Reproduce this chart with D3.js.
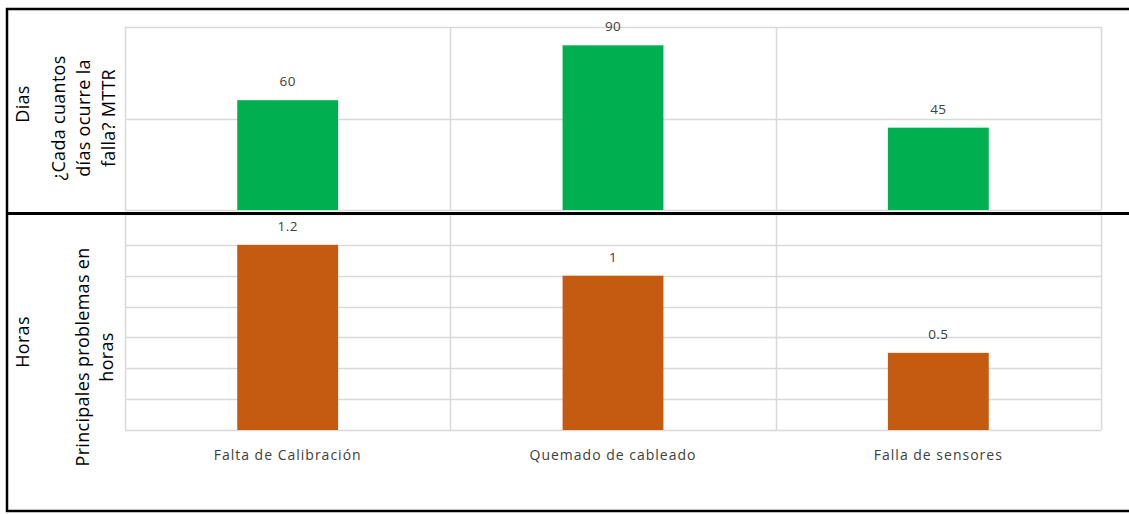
<!DOCTYPE html>
<html>
<head>
<meta charset="utf-8">
<script src="https://cdn.jsdelivr.net/npm/d3@7"></script>
<style>
  html, body { margin: 0; padding: 0; background: #fff; }
  svg { display: block; }
  text { font-family: "Open Sans", "Liberation Sans", sans-serif; }
</style>
</head>
<body>
<svg id="chart" width="1129" height="514"></svg>
<script>
// Failure categories and the two measures shown per category
const categories = ["Falta de Calibración", "Quemado de cableado", "Falla de sensores"];
const daysValues = [60, 90, 45];          // ¿Cada cuantos días ocurre la falla? MTTR
const hoursValues = [1.2, 1, 0.5];        // Principales problemas en horas
const daysTicks = [0, 50, 100];
const hoursTicks = [0, 0.2, 0.4, 0.6, 0.8, 1.0, 1.2, 1.4];

const daysLabels = ["60", "90", "45"];
const hoursLabels = ["1.2", "1", "0.5"];

const svg = d3.select("#chart");

const plotLeft = 125, plotRight = 1101;

// Category bands (grid separators) and bar positions
const xCell = d3.scaleBand().domain(categories).range([plotLeft, plotRight]).padding(0);
const xBar = d3.scaleBand().domain(categories).range([plotLeft, plotRight])
  .paddingInner(0.69).paddingOuter(0.345);

const yDays = d3.scaleLinear().domain([0, 100]).range([210, 27]);
const yHours = d3.scaleLinear().domain([0, 1.4]).range([430, 214]);

const gridColor = "#d9d9d9";

function panel(yScale, ticks, values, labels, color, yTopPx, yBotPx) {
  const g = svg.append("g");
  // horizontal gridlines
  g.selectAll("line.h").data(ticks).join("line")
    .attr("x1", plotLeft).attr("x2", plotRight)
    .attr("y1", d => Math.round(yScale(d)) + 0.5)
    .attr("y2", d => Math.round(yScale(d)) + 0.5)
    .attr("stroke", gridColor).attr("stroke-width", 1.5);
  // vertical separators
  const seps = categories.map(c => xCell(c)).concat([plotRight]);
  g.selectAll("line.v").data(seps).join("line")
    .attr("x1", d => Math.round(d) + 0.5).attr("x2", d => Math.round(d) + 0.5)
    .attr("y1", yTopPx).attr("y2", yBotPx)
    .attr("stroke", gridColor).attr("stroke-width", 1.5);
  // bars
  g.selectAll("rect").data(values).join("rect")
    .attr("x", (d, i) => xBar(categories[i]))
    .attr("width", xBar.bandwidth())
    .attr("y", d => yScale(d))
    .attr("height", d => yScale(0) - yScale(d))
    .attr("fill", color);
  // value labels
  g.selectAll("text.val").data(values).join("text")
    .attr("class", "val")
    .attr("x", (d, i) => xBar(categories[i]) + xBar.bandwidth() / 2)
    .attr("y", d => yScale(d) - 14)
    .attr("text-anchor", "middle")
    .attr("font-size", 13.5)
    .attr("letter-spacing", 0.4)
    .attr("fill", "#404040")
    .text((d, i) => labels[i]);
}

panel(yDays, daysTicks, daysValues, daysLabels, "#00b050", 27, 210);
panel(yHours, hoursTicks, hoursValues, hoursLabels, "#c55a11", 214, 430);

// Category labels
svg.append("g").selectAll("text").data(categories).join("text")
  .attr("x", d => xBar(d) + xBar.bandwidth() / 2)
  .attr("y", 460)
  .attr("text-anchor", "middle")
  .attr("font-size", 14)
  .attr("letter-spacing", 1)
  .attr("fill", "#404040")
  .text(d => d);

// Rotated axis titles
function vTitle(lines, cx, cy, size, spacing) {
  const t = svg.append("text")
    .attr("transform", `translate(${cx},${cy}) rotate(-90)`)
    .attr("text-anchor", "middle")
    .attr("font-size", size)
    .attr("letter-spacing", 0.3)
    .attr("fill", "#000");
  const n = lines.length;
  lines.forEach((l, i) => {
    t.append("tspan").attr("x", 0)
      .attr("y", (i - (n - 1) / 2) * spacing + size * 0.35)
      .text(l);
  });
}
vTitle(["Dias"], 23, 104, 18, 0);
vTitle(["¿Cada cuantos", "días ocurre la", "falla? MTTR"], 84, 118, 18, 25);
vTitle(["Horas"], 23, 342, 18, 0);
vTitle(["Principales problemas en", "horas"], 95, 357, 18, 24);

// Frame and divider
svg.append("rect").attr("x", 7).attr("y", 9).attr("width", 1140).attr("height", 502)
  .attr("fill", "none").attr("stroke", "#000").attr("stroke-width", 2.5);
svg.append("line").attr("x1", 7).attr("x2", 1129).attr("y1", 213.5).attr("y2", 213.5)
  .attr("stroke", "#000").attr("stroke-width", 3);
</script>
</body>
</html>
